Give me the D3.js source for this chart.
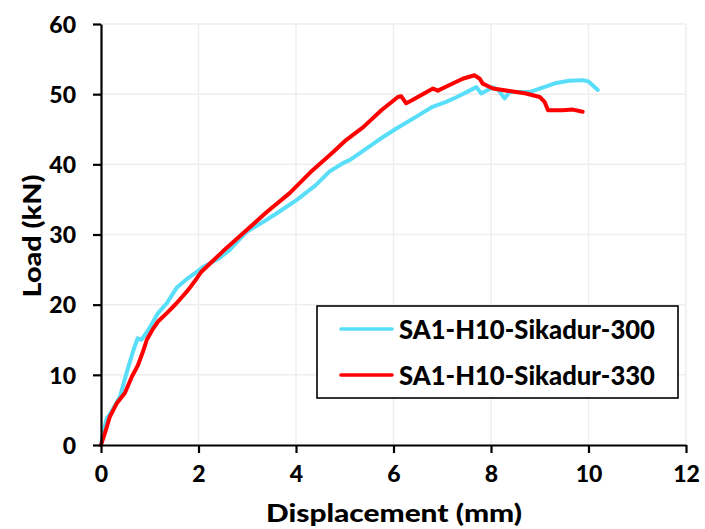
<!DOCTYPE html>
<html>
<head>
<meta charset="utf-8">
<script src="https://cdn.jsdelivr.net/npm/d3@7"></script>
<style>
  html, body { margin: 0; padding: 0; background: #fff; }
  svg { display: block; }
  text { font-family: Lato, "Liberation Sans", sans-serif; font-weight: 900; fill: #000; }
</style>
</head>
<body>
<svg id="chart" width="705" height="529"></svg>
<script>
// Load–displacement curves for the two adhesive specimens
const seriesNames = ["SA1-H10-Sikadur-300", "SA1-H10-Sikadur-330"];
const seriesColors = ["#58def8", "#ff0000"];

const disp300 = [0, 0.05, 0.12, 0.2, 0.39, 0.48, 0.56, 0.66, 0.75, 0.83, 0.97, 1.17, 1.35, 1.55, 1.75, 1.93, 2.1, 2.4, 2.64, 2.99, 3.33, 3.6, 4.01, 4.4, 4.69, 4.97, 5.1, 5.31, 5.7, 6.06, 6.47, 6.8, 7.08, 7.3, 7.53, 7.7, 7.8, 8.04, 8.15, 8.28, 8.38, 8.79, 9.34, 9.6, 9.88, 10.0, 10.19];
const load300 = [0, 2.0, 3.8, 4.6, 6.9, 9.2, 11.1, 13.4, 15.2, 15.0, 16.4, 18.8, 20.2, 22.4, 23.6, 24.5, 25.4, 26.5, 27.8, 30.4, 31.8, 33.0, 34.9, 37.0, 39.0, 40.2, 40.6, 41.6, 43.5, 45.1, 46.8, 48.2, 48.9, 49.6, 50.4, 51.0, 50.1, 51.0, 50.6, 49.4, 50.3, 50.3, 51.6, 51.9, 52.0, 51.8, 50.6];

const disp330 = [0, 0.08, 0.18, 0.32, 0.49, 0.63, 0.76, 0.87, 0.94, 1.07, 1.17, 1.35, 1.55, 1.79, 1.96, 2.06, 2.5, 2.92, 3.4, 3.87, 4.3, 4.69, 5.0, 5.38, 5.75, 6.09, 6.16, 6.26, 6.37, 6.6, 6.81, 6.91, 7.15, 7.42, 7.66, 7.77, 7.83, 8.04, 8.52, 8.72, 9.0, 9.1, 9.17, 9.47, 9.68, 9.88];
const load330 = [0, 1.7, 4.0, 5.9, 7.4, 9.7, 11.4, 13.5, 15.0, 16.6, 17.6, 18.8, 20.2, 22.1, 23.7, 24.7, 27.6, 30.2, 33.2, 35.9, 38.9, 41.3, 43.3, 45.3, 47.7, 49.6, 49.7, 48.7, 49.1, 50.0, 50.8, 50.5, 51.3, 52.2, 52.7, 52.2, 51.5, 50.8, 50.3, 50.1, 49.6, 48.9, 47.7, 47.7, 47.8, 47.5];

const xTicks = [0, 2, 4, 6, 8, 10, 12];
const yTicks = [0, 10, 20, 30, 40, 50, 60];
const xTitle = "Displacement (mm)";
const yTitle = "Load (kN)";

const svg = d3.select("#chart");
const plot = { left: 101, right: 686, top: 24, bottom: 445 };

const x = d3.scaleLinear().domain([0, 12]).range([plot.left, plot.right]);
const y = d3.scaleLinear().domain([0, 60]).range([plot.bottom, plot.top]);

// gridlines
const grid = svg.append("g");
grid.selectAll("line.v").data(xTicks.slice(1)).join("line")
  .attr("x1", d => x(d)).attr("x2", d => x(d))
  .attr("y1", plot.top).attr("y2", plot.bottom)
  .attr("stroke", "#eeeeee").attr("stroke-width", 1.5);
grid.selectAll("line.h").data(yTicks.slice(1)).join("line")
  .attr("x1", plot.left).attr("x2", plot.right)
  .attr("y1", d => y(d)).attr("y2", d => y(d))
  .attr("stroke", "#eeeeee").attr("stroke-width", 1.5);

// curves
const series = [
  { name: seriesNames[0], color: seriesColors[0], pts: disp300.map((d, i) => [d, load300[i]]) },
  { name: seriesNames[1], color: seriesColors[1], pts: disp330.map((d, i) => [d, load330[i]]) }
];
const line = d3.line().x(d => x(d[0])).y(d => y(d[1]));
svg.append("g").selectAll("path").data(series).join("path")
  .attr("d", s => line(s.pts))
  .attr("fill", "none")
  .attr("stroke", s => s.color)
  .attr("stroke-width", 4)
  .attr("stroke-linejoin", "round")
  .attr("stroke-linecap", "round");

// axes
const xAxis = d3.axisBottom(x).tickValues(xTicks).tickSize(8).tickSizeOuter(0).tickPadding(13);
const yAxis = d3.axisLeft(y).tickValues(yTicks).tickSize(8).tickSizeOuter(0).tickPadding(17);

const gx = svg.append("g").attr("transform", `translate(0,${plot.bottom})`).call(xAxis);
const gy = svg.append("g").attr("transform", `translate(${plot.left},0)`).call(yAxis);
[gx, gy].forEach(g => {
  g.select(".domain").attr("stroke", "#000").attr("stroke-width", 2.2);
  g.selectAll(".tick line").attr("stroke", "#000").attr("stroke-width", 2.2);
  g.selectAll(".tick text").style("font-size", "23px").style("font-family", "Lato, sans-serif")
    .style("font-weight", "900").attr("fill", "#000");
});
gy.selectAll(".tick text").attr("dy", "0.36em");

// axis titles
svg.append("text")
  .attr("x", (plot.left + plot.right) / 2 + 0.5).attr("y", 522)
  .attr("text-anchor", "middle")
  .style("font-size", "25px")
  .attr("textLength", 256).attr("lengthAdjust", "spacingAndGlyphs")
  .text(xTitle);
svg.append("text")
  .attr("transform", "translate(41,236) rotate(-90)")
  .attr("text-anchor", "middle")
  .style("font-size", "25px")
  .attr("textLength", 123).attr("lengthAdjust", "spacingAndGlyphs")
  .text(yTitle);

// legend
const lg = svg.append("g");
lg.append("rect")
  .attr("x", 317).attr("y", 306).attr("width", 361).attr("height", 92)
  .attr("fill", "#fff").attr("stroke", "#000").attr("stroke-width", 1.6);
const rows = lg.selectAll("g.row").data(series).join("g")
  .attr("transform", (d, i) => `translate(0,${329 + i * 46})`);
rows.append("line")
  .attr("x1", 341).attr("x2", 392).attr("y1", 0).attr("y2", 0)
  .attr("stroke", d => d.color).attr("stroke-width", 3.6).attr("stroke-linecap", "round");
rows.append("text")
  .attr("x", 399).attr("y", 10)
  .style("font-size", "27px")
  .attr("textLength", 256).attr("lengthAdjust", "spacingAndGlyphs")
  .text(d => d.name);
</script>
</body>
</html>
